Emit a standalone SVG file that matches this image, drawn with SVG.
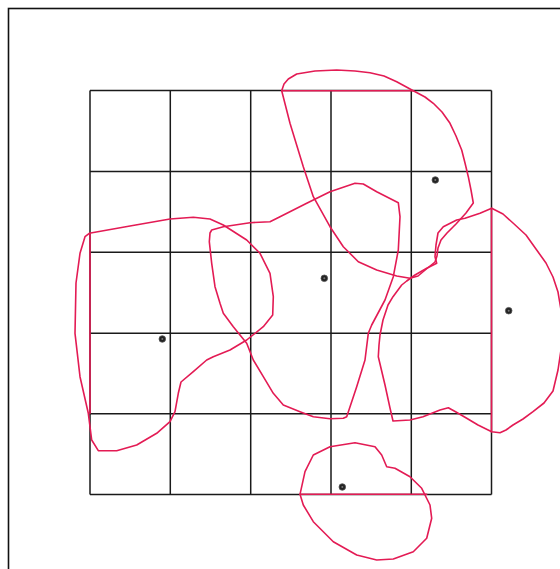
<svg xmlns="http://www.w3.org/2000/svg" width="560" height="569" viewBox="0 0 560 569">
<style>
.frame{fill:none;stroke:#111;stroke-width:1.6}
.grid{fill:none;stroke:#1a1a1a;stroke-width:1.5}
.blob{fill:none;stroke:#e31b54;stroke-width:1.6;stroke-linejoin:round;stroke-linecap:round}
.dot{fill:#222;stroke:#555;stroke-width:0.8}
.dotc{fill:#777}
</style>
<rect x="0" y="0" width="560" height="569" fill="#fff"/>
<rect class="frame" x="8.5" y="8.5" width="600" height="600"/>
<g id="grid">
<path class="grid" d="M90,90.5H491.5M90,171.5H491.5M90,252.3H491.5M90,333.3H491.5M90,413.7H491.5M90,494.5H491.5M90,90.5V494.5M170.3,90.5V494.5M250.7,90.5V494.5M331,90.5V494.5M411.3,90.5V494.5M491.5,90.5V494.5"/>
</g>
<g id="connectors"></g>
<g id="region-top">
<polygon class="blob" points="281.7,90.7 284,84 288.3,79 296.7,74 315,71 336.7,70 355,71 370,72.7 384,76 396.7,81.7 413.3,90.7 425,97 433.3,103.3 442,112 450,123.3 456,136 461.7,150 465,163 468.3,176.7 471,190 473.3,203 466,213 456,224 447,233 441,240 438,248 437,256 435,262 427,268.5 418,276 410,278.3 396.7,276 376.7,270 358.3,261.7 343.3,246.7 330,226.7 313.3,196.7 303.3,166.7 290,123.3"/>
<line class="blob" x1="281.7" y1="90.7" x2="413.3" y2="90.7"/>
<circle class="dot" cx="435.3" cy="180" r="3.3"/><circle class="dotc" cx="435.3" cy="180" r="1"/>
</g>
<g id="region-middle">
<polygon class="blob" points="210,233 211.7,230 223.3,226.7 250,222.7 270,221.7 280,216.7 306.7,203.3 330,191.7 355,183.3 363.3,184 376.7,191.7 398.3,202.7 400,216.7 398.3,250 393.3,276.7 385,300 371.7,325 368.3,333.3 365,360 356.7,386.7 346.7,416.7 343.3,418.3 330,418.7 313.3,416.7 300,411.7 283.3,405 273.3,393.3 263.3,376.7 253.3,360 246.7,343.3 233.3,326.7 223.3,313.3 220,303.3 215,286.7 211.7,263.3 209.3,241.7"/>
<circle class="dot" cx="324.3" cy="278.3" r="3.3"/><circle class="dotc" cx="324.3" cy="278.3" r="1"/>
</g>
<g id="region-left">
<polygon class="blob" points="89.3,233.3 130,226 170,219 193.3,217.3 210,219 223.3,225 246.7,240 260,253.3 270,273.3 273.3,296.7 272.7,315 263.3,326.7 246.7,340 230,350 213.3,356.7 206.7,360 193.3,371.7 181,382 178.3,393.3 175,411.7 170,421.7 156.7,433.3 136.7,445 116.7,450.7 98.3,450.7 91.7,440 88.3,413.3 80,376.7 75,333.3 76,283 80,253.3 85,236.7"/>
<line class="blob" x1="90" y1="233.3" x2="90" y2="413.3"/>
<circle class="dot" cx="162.3" cy="339" r="3.3"/><circle class="dotc" cx="162.3" cy="339" r="1"/>
</g>
<g id="region-right">
<polygon class="blob" points="491.7,208.3 503,214 513,223 526,235 536.7,250 546,263 553,277 558,292 561,310 562,330 561,350 558,370 553,391 544,403 533,411.7 523,419 513,425 506,430 500,432.7 491.7,431.7 478,425 466.7,418.3 456,412 448.3,407.7 440,410 423,416.7 410,420 393,421 390,408 385,385 378.3,356.7 379,345 380,335 383,320 388,305 393,296.7 401.7,285 406.7,281 415,275 426.7,268.3 436.7,263.3 435,256.7 436,245 438,233 443.3,226.7 456.7,220 465,218.3 480,213.3"/>
<line class="blob" x1="491.5" y1="208.3" x2="491.5" y2="431.7"/>
<circle class="dot" cx="508.7" cy="310.7" r="3.3"/><circle class="dotc" cx="508.7" cy="310.7" r="1"/>
</g>
<g id="region-bottom">
<polygon class="blob" points="300,494.3 305,471.7 313.3,455 330,446.7 355,442.7 375,446.7 381.7,455 386.7,466.7 395,468.3 410,476.7 421.7,488.3 430,505 431.7,518.3 426.7,538.3 413.3,551.7 393.3,559 376.7,560 356.7,555 333.3,541.7 313.3,521.7 303.3,505"/>
<line class="blob" x1="300" y1="494.3" x2="426.7" y2="494.3"/>
<circle class="dot" cx="342.3" cy="487" r="3.3"/><circle class="dotc" cx="342.3" cy="487" r="1"/>
</g>
</svg>
